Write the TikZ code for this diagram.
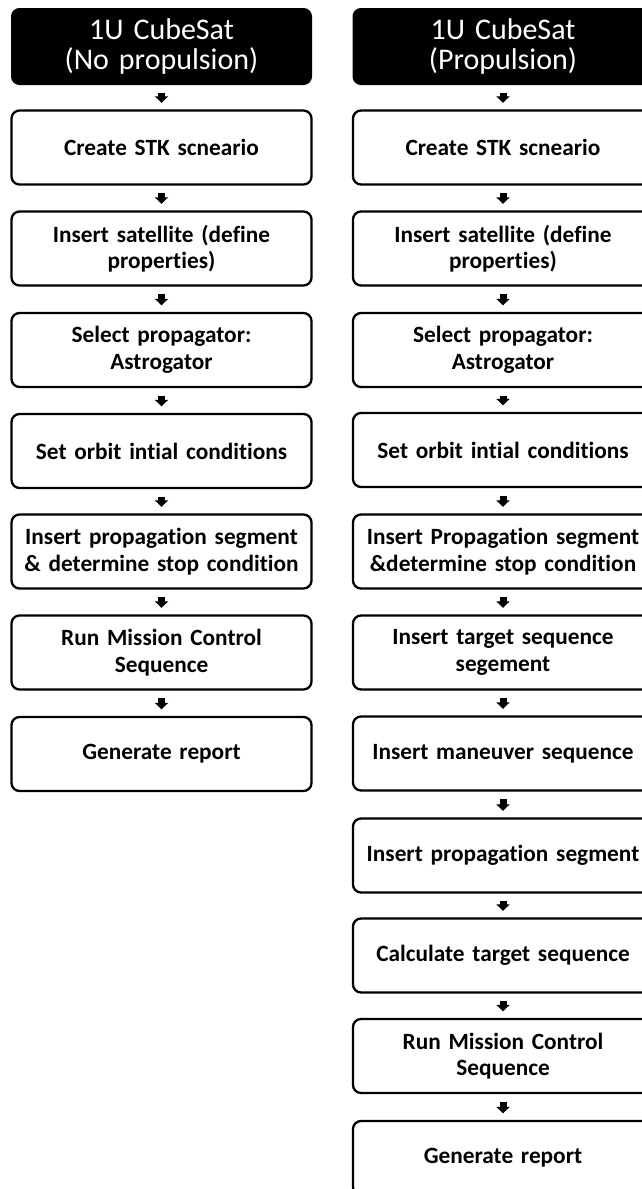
\documentclass[tikz,border=0pt]{standalone}
\usepackage{fontspec}
\setmainfont{Carlito}[RawFeature={-liga;-clig;-calt;-dlig}]
\usetikzlibrary{arrows.meta}
\tikzset{
  stepbox/.style={draw=black, line width=2.3pt, rounded corners=8pt, fill=white,
    minimum width=300pt, minimum height=74pt, inner sep=0pt,
    text width=296pt, align=center,
    font=\fontsize{23.3}{26.5}\selectfont\bfseries},
  headbox/.style={draw=black, fill=black, line width=1pt, rounded corners=8pt,
    minimum width=300pt, minimum height=76pt, inner sep=0pt,
    text width=296pt, align=center, text=white,
    font=\fontsize{30}{29.5}\selectfont},
  conn/.style={line width=7pt, -{Triangle[width=13pt,length=6.5pt]},
    shorten <=7.5pt, shorten >=6.5pt}
}
\begin{document}
\begin{tikzpicture}[x=1pt,y=-1pt]
\useasboundingbox (0,0) rectangle (642,1189);
\clip (0,0) rectangle (642,1189);
\fill[white] (0,0) rectangle (642,1189);
% left column
\node[headbox] (lh) at (161.5,46.5) {1U CubeSat\\(No propulsion)};
\node[stepbox] (l1) at (161.5,147.5) {Create STK scneario};
\node[stepbox] (l2) at (161.5,248.5) {Insert satellite (define\\properties)};
\node[stepbox] (l3) at (161.5,350) {Select propagator:\\Astrogator};
\node[stepbox] (l4) at (161.5,451) {Set orbit intial conditions};
\node[stepbox] (l5) at (161.5,551.5) {Insert propagation segment\\\& determine stop condition};
\node[stepbox] (l6) at (161.5,652.5) {Run Mission Control\\Sequence};
\node[stepbox] (l7) at (161.5,754) {Generate report};
% right column
\node[headbox] (rh) at (503,46.5) {1U CubeSat\\(Propulsion)};
\node[stepbox] (r1) at (503,147.5) {Create STK scneario};
\node[stepbox] (r2) at (503,248.5) {Insert satellite (define\\properties)};
\node[stepbox] (r3) at (503,350) {Select propagator:\\Astrogator};
\node[stepbox] (r4) at (503,450) {Set orbit intial conditions};
\node[stepbox] (r5) at (503,551.5) {Insert Propagation segment\\\&determine stop condition};
\node[stepbox] (r6) at (503,652.5) {Insert target sequence\\segement};
\node[stepbox] (r7) at (503,753.5) {Insert maneuver sequence};
\node[stepbox] (r8) at (503,855.5) {Insert propagation segment};
\node[stepbox] (r9) at (503,955.5) {Calculate target sequence};
\node[stepbox] (r10) at (503,1056) {Run Mission Control\\Sequence};
\node[stepbox] (r11) at (503,1158) {Generate report};
% connectors
\foreach \a/\b in {lh/l1,l1/l2,l2/l3,l3/l4,l4/l5,l5/l6,l6/l7,
  rh/r1,r1/r2,r2/r3,r3/r4,r4/r5,r5/r6,r6/r7,r7/r8,r8/r9,r9/r10,r10/r11}
  \draw[conn] (\a.south) -- (\b.north);
\end{tikzpicture}
\end{document}
